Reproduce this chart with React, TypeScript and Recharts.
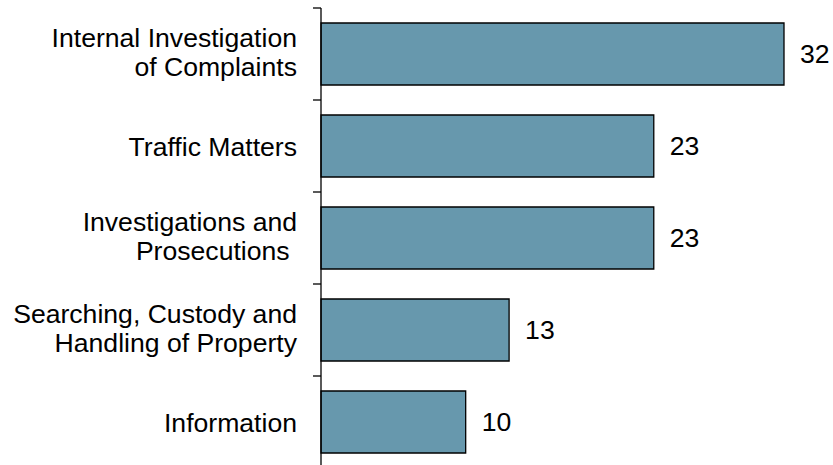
import React from "react";
import { BarChart, Bar, XAxis, YAxis, LabelList } from "recharts";

const categories = [
  "Internal Investigation\nof Complaints",
  "Traffic Matters",
  "Investigations and\nProsecutions ",
  "Searching, Custody and\nHandling of Property",
  "Information",
];
const counts = [32, 23, 23, 13, 10];

const data = categories.map((name, i) => ({ name, value: counts[i] }));

const FONT = "'Liberation Sans', Arial, sans-serif";

const CategoryTick = (props: any) => {
  const { x, y, payload, index } = props;
  const lines: string[] = String(payload.value).split("\n");
  const half = 46; // half of a band
  return (
    <g>
      <line x1={x + 16} x2={x + 24} y1={y - half} y2={y - half} stroke="#000" strokeWidth={1.3} />
      {index === categories.length - 1 && (
        <line x1={x + 16} x2={x + 24} y1={y + half} y2={y + half} stroke="#000" strokeWidth={1.3} />
      )}
      <text
        x={x}
        y={y}
        textAnchor="end"
        fontFamily={FONT}
        fontSize={26.6}
        fill="#000"
        style={{ whiteSpace: "pre" }}
      >
        {lines.length === 1 ? (
          <tspan x={x} dy={10}>{lines[0]}</tspan>
        ) : (
          lines.map((l, i) => (
            <tspan key={i} x={x} dy={i === 0 ? -7 : 28.5}>
              {l}
            </tspan>
          ))
        )}
      </text>
    </g>
  );
};

export default function App() {
  return (
    <div
      style={{
        position: "absolute",
        left: 0,
        top: 0,
        width: 833,
        height: 465,
        overflow: "hidden",
        background: "#fff",
      }}
    >
      <BarChart
        width={833}
        height={470}
        data={data}
        layout="vertical"
        margin={{ top: 8, right: 49, bottom: 2, left: 0 }}
        barSize={62}
      >
        <XAxis type="number" domain={[0, 32]} hide />
        <YAxis
          type="category"
          dataKey="name"
          width={321}
          axisLine={{ stroke: "#000", strokeWidth: 1.3 }}
          tickLine={false}
          tickSize={0}
          tickMargin={24}
          interval={0}
          tick={<CategoryTick />}
        />
        <Bar
          dataKey="value"
          fill="#6798AD"
          stroke="#000"
          strokeWidth={1.3}
          isAnimationActive={false}
        >
          <LabelList
            dataKey="value"
            position="right"
            offset={16}
            fill="#000"
            fontSize={26.6}
            fontFamily={FONT}
          />
        </Bar>
      </BarChart>
    </div>
  );
}
